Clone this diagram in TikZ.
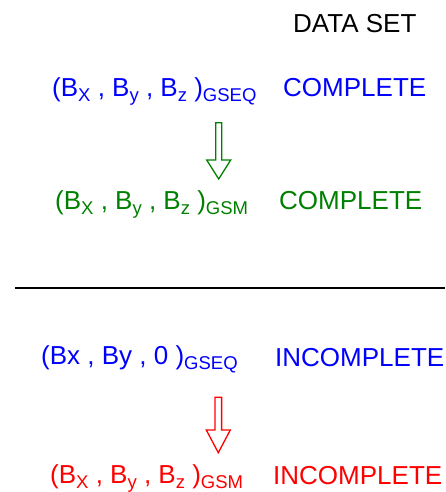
\documentclass[tikz,border=0pt]{standalone}
\usepackage{fontspec}
\setmainfont{Liberation Sans}
\definecolor{gblue}{RGB}{0,0,255}
\definecolor{ggreen}{RGB}{0,128,0}
\definecolor{gred}{RGB}{255,0,0}
\newcommand{\sbs}[1]{\raisebox{-5.5pt}{\fontsize{18.5}{22}\selectfont #1}}
\begin{document}
\begin{tikzpicture}[x=1pt,y=-1pt,
  txt/.style={anchor=base west,inner sep=0pt,font=\fontsize{26}{30}\selectfont},
  hollow/.style={line width=1.3pt,fill=white,line join=miter}]
\useasboundingbox (0,0) rectangle (445,492);

% header
\node[txt] (hdr) at (293,33) {DATA SET};

% complete data set
\node[txt,gblue] (f1) at (52,96) {(B\sbs{X} , B\sbs{y} , B\sbs{z} )\sbs{GSEQ}};
\node[txt,gblue] (c1) at (283,96) {COMPLETE};
\node[txt,ggreen] (f2) at (55,209) {(B\sbs{X} , B\sbs{y} , B\sbs{z} )\sbs{GSM}};
\node[txt,ggreen] (c2) at (279,209) {COMPLETE};

% separator
\coordinate (sl) at (15,288);
\coordinate (sr) at (445,288);
\draw[line width=2.8pt] (sl) -- (sr);

% incomplete data set
\node[txt,gblue] (f3) at (41,364) {(Bx , By , 0 )\sbs{GSEQ}};
\node[txt,gblue] (c3) at (275,366) {INCOMPLETE};
\node[txt,gred] (f4) at (50,483) {(B\sbs{X} , B\sbs{y} , B\sbs{z} )\sbs{GSM}};
\node[txt,gred] (c4) at (273,484) {INCOMPLETE};

% hollow transformation arrows
\coordinate (a1) at (218.7,122.7);
\draw[hollow,draw=ggreen] (a1) ++(-3,0) -- ++(0,37.3) -- ++(-9,0) -- ++(12,19) -- ++(12,-19) -- ++(-9,0) -- ++(0,-37.3) -- cycle;
\coordinate (a2) at (218.3,397.3);
\draw[hollow,draw=gred] (a2) ++(-3.3,0) -- ++(0,32.7) -- ++(-8.7,0) -- ++(12,22.7) -- ++(12,-22.7) -- ++(-8.7,0) -- ++(0,-32.7) -- cycle;
\end{tikzpicture}
\end{document}
